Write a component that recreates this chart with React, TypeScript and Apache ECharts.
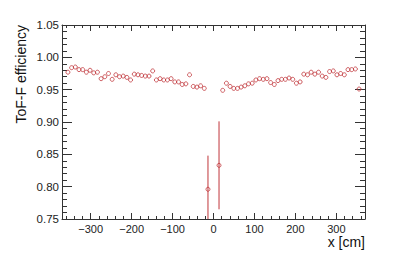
import React, { useEffect, useRef } from "react";
import * as echarts from "echarts";

const xCenters = [
  -355.5, -346.5, -337.5, -328.5, -319.5, -310.5, -301.5, -292.5, -283.5, -274.5,
  -265.5, -256.5, -247.5, -238.5, -229.5, -220.5, -211.5, -202.5, -193.5, -184.5,
  -175.5, -166.5, -157.5, -148.5, -139.5, -130.5, -121.5, -112.5, -103.5, -94.5,
  -85.5, -76.5, -67.5, -58.5, -49.5, -40.5, -31.5, -22.5, -13.5,
  13.5, 22.5, 31.5, 40.5, 49.5, 58.5, 67.5, 76.5, 85.5, 94.5,
  103.5, 112.5, 121.5, 130.5, 139.5, 148.5, 157.5, 166.5, 175.5, 184.5,
  193.5, 202.5, 211.5, 220.5, 229.5, 238.5, 247.5, 256.5, 265.5, 274.5,
  283.5, 292.5, 301.5, 310.5, 319.5, 328.5, 337.5, 346.5, 355.5,
];

const efficiency = [
  0.977, 0.984, 0.985, 0.981, 0.981, 0.977, 0.98, 0.976, 0.977, 0.967,
  0.97, 0.975, 0.966, 0.973, 0.97, 0.971, 0.969, 0.965, 0.974, 0.973,
  0.972, 0.971, 0.971, 0.979, 0.965, 0.967, 0.965, 0.965, 0.967, 0.962,
  0.962, 0.958, 0.959, 0.973, 0.955, 0.954, 0.956, 0.952, 0.796,
  0.833, 0.949, 0.96, 0.955, 0.952, 0.952, 0.954, 0.956, 0.959, 0.96,
  0.965, 0.967, 0.966, 0.967, 0.961, 0.958, 0.964, 0.966, 0.966, 0.968,
  0.966, 0.96, 0.962, 0.974, 0.973, 0.977, 0.974, 0.977, 0.971, 0.969,
  0.978, 0.979, 0.973, 0.975, 0.973, 0.981, 0.981, 0.982, 0.951,
];

const errX = [-13.5, 13.5];
const errY = [0.796, 0.833];
const errSize = [0.052, 0.068];

const xMajorTicks = [-300, -200, -100, 0, 100, 200, 300];
const xMinorTicks = [
  -360, -340, -320, -300, -280, -260, -240, -220, -200, -180, -160, -140, -120, -100,
  -80, -60, -40, -20, 0, 20, 40, 60, 80, 100, 120, 140, 160, 180, 200, 220, 240, 260,
  280, 300, 320, 340, 360,
];
const yMajorTicks = [0.75, 0.8, 0.85, 0.9, 0.95, 1.0, 1.05];
const yMinorTicks = [
  0.76, 0.77, 0.78, 0.79, 0.81, 0.82, 0.83, 0.84, 0.86, 0.87, 0.88, 0.89,
  0.91, 0.92, 0.93, 0.94, 0.96, 0.97, 0.98, 0.99, 1.01, 1.02, 1.03, 1.04,
];

const X_MIN = -370;
const X_MAX = 370;
const Y_MIN = 0.75;
const Y_MAX = 1.05;

const FONT = "'Liberation Sans', Arial, Helvetica, sans-serif";
const RED = "#c0353a";
const AXIS = "#333";

export default function App() {
  const ref = useRef<HTMLDivElement>(null);

  useEffect(() => {
    document.body.style.margin = "0";
    if (!ref.current) return;
    const chart = echarts.init(ref.current, undefined, { renderer: "svg" });

    const axisLine = (show: boolean) => ({
      show,
      onZero: false,
      lineStyle: { color: AXIS, width: 1 },
    });
    const mkX = (pos: string, ticks: number[], len: number, labels: boolean, showLine: boolean) => ({
      type: "value",
      position: pos,
      min: X_MIN,
      max: X_MAX,
      axisLine: axisLine(showLine),
      axisTick: { show: true, inside: true, length: len, customValues: ticks, lineStyle: { color: AXIS, width: 1 } },
      axisLabel: labels
        ? {
            show: true,
            customValues: ticks,
            margin: 4,
            fontSize: 11,
            color: "#222",
            fontFamily: FONT,
            formatter: (v: number) => (v < 0 ? "\u2212" + Math.abs(v) : String(v)),
          }
        : { show: false },
      splitLine: { show: false },
    });
    const mkY = (pos: string, ticks: number[], len: number, labels: boolean, showLine: boolean) => ({
      type: "value",
      position: pos,
      min: Y_MIN,
      max: Y_MAX,
      axisLine: axisLine(showLine),
      axisTick: { show: true, inside: true, length: len, customValues: ticks, lineStyle: { color: AXIS, width: 1 } },
      axisLabel: labels
        ? {
            show: true,
            customValues: ticks,
            margin: 3,
            fontSize: 11.5,
            color: "#222",
            fontFamily: FONT,
            formatter: (v: number) => v.toFixed(2),
          }
        : { show: false },
      splitLine: { show: false },
    });

    chart.setOption({
      animation: false,
      grid: { left: 62, right: 50, top: 25, bottom: 34, containLabel: false },
      xAxis: [
        mkX("bottom", xMajorTicks, 6, true, true),
        mkX("bottom", xMinorTicks, 3, false, false),
        mkX("top", xMajorTicks, 6, false, true),
        mkX("top", xMinorTicks, 3, false, false),
      ],
      yAxis: [
        mkY("left", yMajorTicks, 10, true, true),
        mkY("left", yMinorTicks, 5, false, false),
        mkY("right", yMajorTicks, 10, false, true),
        mkY("right", yMinorTicks, 5, false, false),
      ],
      graphic: [
        {
          type: "text",
          x: 21,
          y: 25,
          rotation: Math.PI / 2,
          style: {
            text: "ToF-F efficiency",
            fontSize: 14,
            fontFamily: FONT,
            fill: "#111",
            align: "right",
            verticalAlign: "middle",
          },
        },
        {
          type: "text",
          x: 365,
          y: 242,
          style: {
            text: "x [cm]",
            fontSize: 14,
            fontFamily: FONT,
            fill: "#111",
            align: "right",
            verticalAlign: "middle",
          },
        },
      ],
      series: [
        {
          type: "custom",
          xAxisIndex: 0,
          yAxisIndex: 0,
          data: errX.map((x, i) => [x, errY[i], errSize[i]]),
          renderItem: (_params: any, api: any) => {
            const x = api.value(0);
            const y = api.value(1);
            const e = api.value(2);
            const lo = Math.max(y - e, Y_MIN);
            const hi = Math.min(y + e, Y_MAX);
            const p1 = api.coord([x, lo]);
            const p2 = api.coord([x, hi]);
            return {
              type: "line",
              shape: { x1: p1[0], y1: p1[1], x2: p2[0], y2: p2[1] },
              style: { stroke: RED, lineWidth: 1 },
            };
          },
          z: 2,
        },
        {
          type: "scatter",
          xAxisIndex: 0,
          yAxisIndex: 0,
          data: xCenters.map((x, i) => [x, efficiency[i]]),
          symbol: "circle",
          symbolSize: 4,
          itemStyle: { color: "rgba(255,255,255,0)", borderColor: RED, borderWidth: 1 },
          z: 3,
        },
      ],
    });

    return () => chart.dispose();
  }, []);

  return <div ref={ref} style={{ width: 415, height: 253 }} />;
}
